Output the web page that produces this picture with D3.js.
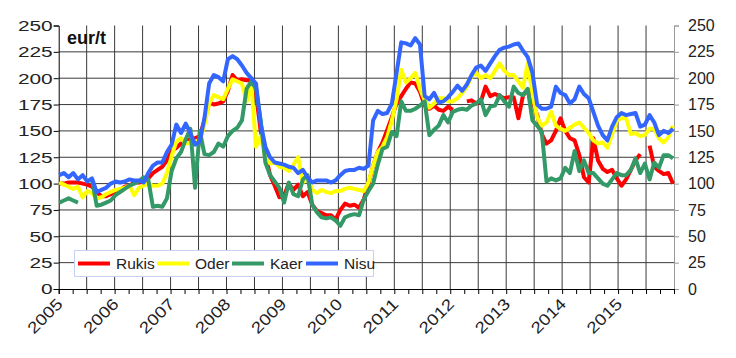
<!DOCTYPE html>
<html>
<head>
<meta charset="utf-8">
<script src="https://cdn.jsdelivr.net/npm/d3@7"></script>
<style>
  html, body { margin: 0; padding: 0; background: #fff; }
  svg { display: block; font-family: "Liberation Sans", Arial, sans-serif; }
</style>
</head>
<body>
<svg id="chart" width="736" height="358"></svg>
<script>
// ---- data (monthly, Jan 2005 .. Dec 2015) ----
const startYear = 2005;
const endYear = 2016;
const yearLabels = ["2005","2006","2007","2008","2009","2010","2011","2012","2013","2014","2015"];
const yTicks = [0, 25, 50, 75, 100, 125, 150, 175, 200, 225, 250];
const seriesNames = ["Rukis", "Oder", "Kaer", "Nisu"];
const seriesColors = ["#ff0000", "#ffff00", "#339966", "#3366ff"];
const unitLabel = "eur/t";

const rukis = [100,100,101,101,101,100,99,97,92,88,88,90,
  92,94,97,98,101,101,102,105,110,113,116,122,
  131,134,138,140,142,143,145,160,177,175,176,178,
  188,203,198,199,198,198,185,150,128,108,98,87,
  89,100,94,99,88,92,80,74,72,70,70,66,
  75,81,79,80,77,85,100,117,130,139,151,163,
  176,183,190,196,195,187,174,171,174,170,169,173,
  170,null,null,178,179,176,178,192,183,185,183,181,
  182,182,162,184,188,178,165,147,138,141,150,162,
  150,143,141,127,106,101,143,122,114,111,113,105,
  98,104,113,122,128,null,136,116,112,109,110,100];

const oder = [101,99,97,95,97,87,93,91,86,87,90,92,
  94,95,96,98,89,96,98,100,98,98,100,110,
  126,140,143,138,139,140,141,156,176,184,182,180,
  190,199,197,195,178,195,135,145,125,119,120,116,
  115,112,118,125,101,106,94,91,94,92,91,93,
  93,95,96,95,94,93,101,117,130,135,144,160,
  180,208,196,200,205,190,179,172,176,181,181,178,
  178,181,186,192,202,205,200,203,200,207,214,207,
  203,203,197,191,214,185,163,155,158,168,155,152,
  150,153,156,158,153,148,141,138,139,134,147,160,
  162,162,147,148,145,146,152,152,143,139,144,155];

const kaer = [82,84,86,84,82,null,null,104,79,80,82,84,
  89,92,95,98,100,102,106,104,78,79,78,86,
  112,124,130,142,152,96,150,128,127,130,138,135,
  145,150,153,160,190,197,190,160,120,108,102,96,
  82,101,90,88,104,108,80,73,68,67,68,65,
  60,68,70,71,70,85,93,100,118,133,135,149,
  145,178,169,169,171,174,178,146,151,155,165,158,
  168,170,171,170,174,176,180,165,173,174,184,178,
  173,192,186,184,190,160,155,149,102,105,103,105,
  115,110,131,112,122,110,110,105,100,98,104,110,
  108,108,113,124,110,119,104,120,115,127,127,124];

const nisu = [108,110,106,110,104,108,102,105,92,94,96,100,
  102,101,102,104,103,103,101,110,117,120,120,130,
  137,156,148,157,148,137,140,162,195,203,201,197,
  218,221,218,212,205,200,195,157,135,125,120,119,
  118,116,115,110,113,106,101,103,103,103,101,103,
  108,112,113,113,115,114,117,160,169,166,167,176,
  205,234,233,231,238,232,183,180,186,177,178,182,
  187,193,188,194,203,210,212,207,214,221,227,229,
  230,232,233,226,220,205,175,171,171,173,192,186,
  184,176,180,192,185,181,168,155,146,141,154,163,
  167,165,166,167,154,156,165,158,146,150,148,152];

const allSeries = [rukis, oder, kaer, nisu];

// ---- layout ----
const svg = d3.select("#chart");
const plotLeft = 58.7, plotRight = 674, plotTop = 25.5, plotBottom = 289;

const xYear = d3.scaleLinear().domain([startYear, endYear]).range([plotLeft, plotRight]);
const xIdx = d3.scaleLinear().domain([0, rukis.length - 1]).range([plotLeft + 0.5, plotRight - 1]);
const y = d3.scaleLinear().domain([0, 250]).range([plotBottom, plotTop]);

const gridColor = "#3a3a3a";

// horizontal gridlines
svg.append("g").selectAll("line")
  .data(yTicks.filter(t => t > 0 && t < 250))
  .join("line")
  .attr("x1", plotLeft).attr("x2", plotRight)
  .attr("y1", d => y(d)).attr("y2", d => y(d))
  .attr("stroke", gridColor).attr("stroke-width", 1);

// vertical gridlines every half year
const halfYears = d3.range(startYear + 0.5, endYear, 0.5);
svg.append("g").selectAll("line")
  .data(halfYears)
  .join("line")
  .attr("x1", d => xYear(d)).attr("x2", d => xYear(d))
  .attr("y1", plotTop).attr("y2", plotBottom)
  .attr("stroke", gridColor).attr("stroke-width", 1);

// right axis (gray)
const rightAxis = d3.axisRight(y).tickValues(yTicks).tickSize(5).tickPadding(9);
const gR = svg.append("g").attr("transform", `translate(${plotRight},0)`).call(rightAxis);
gR.select(".domain").attr("stroke", "#9a9a9a");
gR.selectAll(".tick line").attr("stroke", "#9a9a9a");
gR.selectAll("text").attr("font-size", 16).attr("fill", "#222")
  .attr("font-family", "Liberation Sans, Arial, sans-serif");

// left axis (wide label glyphs as in the reference)
const leftAxis = d3.axisLeft(y).tickValues(yTicks).tickSize(5).tickPadding(1);
const gL = svg.append("g").attr("transform", `translate(${plotLeft},0)`).call(leftAxis);
gL.select(".domain").attr("stroke", "#000");
gL.selectAll(".tick line").attr("stroke", "#000");
gL.selectAll("text").attr("font-size", 15).attr("fill", "#222")
  .attr("font-family", "Liberation Sans, Arial, sans-serif")
  .attr("textLength", d => String(d).length * 11.6)
  .attr("lengthAdjust", "spacingAndGlyphs");

// bottom axis
const quarters = d3.range(startYear, endYear + 0.01, 0.25);
const bottomAxis = d3.axisBottom(xYear).tickValues(quarters).tickSize(5).tickFormat("");
const gB = svg.append("g").attr("transform", `translate(0,${plotBottom})`).call(bottomAxis);
gB.select(".domain").attr("stroke", "#000");
gB.selectAll(".tick line").attr("stroke", "#000");

// year labels rotated
svg.append("g").selectAll("text")
  .data(yearLabels)
  .join("text")
  .attr("transform", d => `translate(${xYear(+d) + 5},${plotBottom + 16}) rotate(-45)`)
  .attr("text-anchor", "end")
  .attr("font-size", 16)
  .attr("fill", "#222")
  .attr("textLength", 42)
  .attr("lengthAdjust", "spacingAndGlyphs")
  .text(d => d);

// series lines
const line = d3.line()
  .defined(d => d != null)
  .x((d, i) => xIdx(i))
  .y(d => y(d));

allSeries.forEach((s, k) => {
  svg.append("path")
    .datum(s)
    .attr("fill", "none")
    .attr("stroke", seriesColors[k])
    .attr("stroke-width", 4)
    .attr("stroke-linejoin", "round")
    .attr("d", line);
});

// unit label
svg.append("text")
  .attr("x", 67).attr("y", 44.3)
  .attr("font-size", 18).attr("font-weight", "bold").attr("fill", "#111")
  .text(unitLabel);

// legend
const lg = svg.append("g");
lg.append("rect")
  .attr("x", 74.5).attr("y", 250.5).attr("width", 299).attr("height", 26)
  .attr("fill", "#fff").attr("stroke", "#c8d0f4").attr("stroke-width", 1);
const legendX = [78, 157, 232, 306];
seriesNames.forEach((n, k) => {
  lg.append("line")
    .attr("x1", legendX[k]).attr("x2", legendX[k] + 32)
    .attr("y1", 263.5).attr("y2", 263.5)
    .attr("stroke", seriesColors[k]).attr("stroke-width", 4);
  lg.append("text")
    .attr("x", legendX[k] + 38).attr("y", 269)
    .attr("font-size", 15.5).attr("fill", "#222")
    .text(n);
});
</script>
</body>
</html>
